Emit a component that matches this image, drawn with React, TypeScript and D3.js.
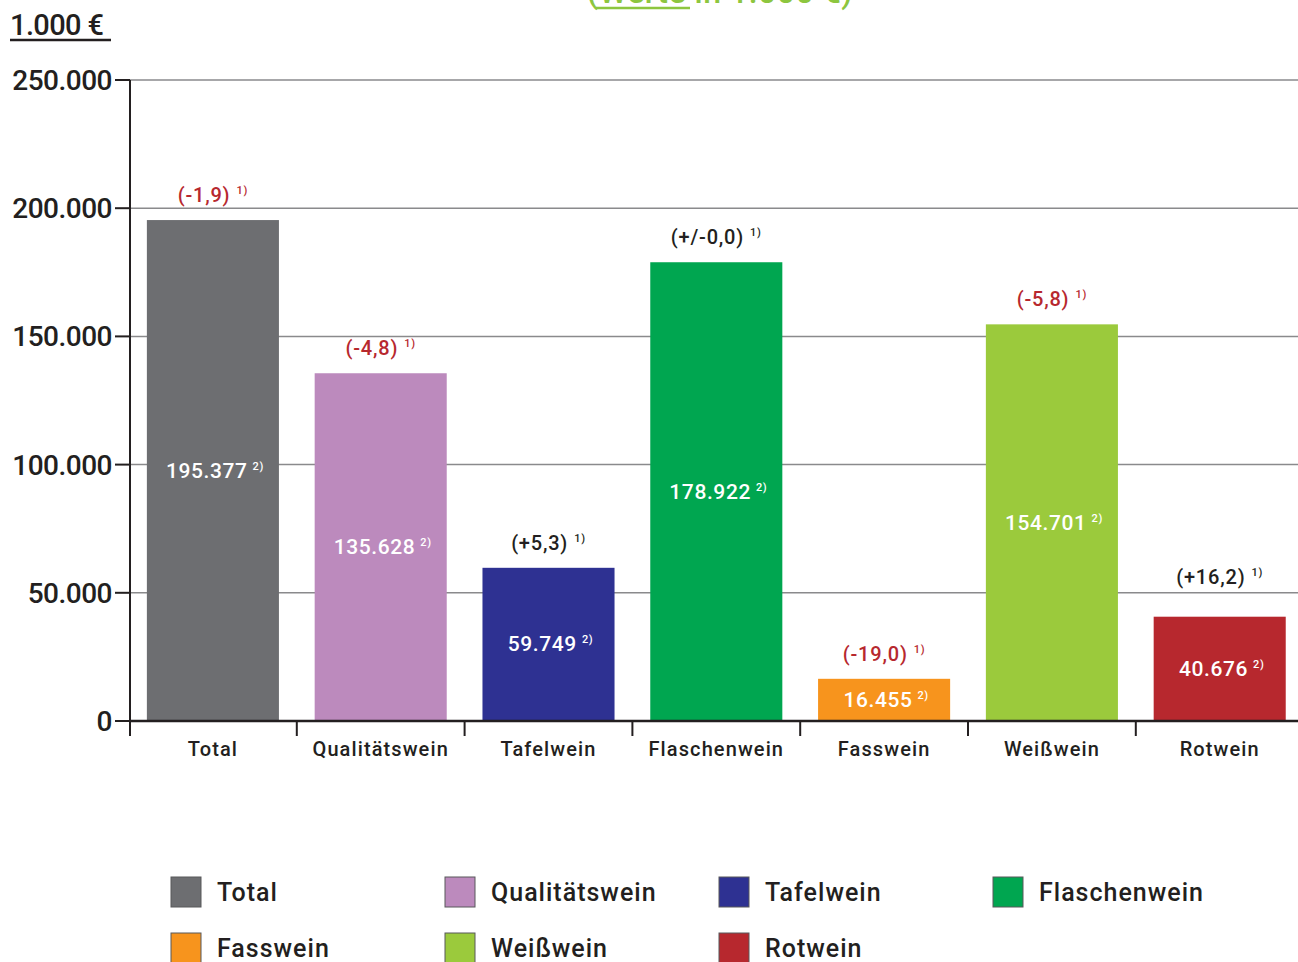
import * as d3 from 'd3';

const categories = ['Total', 'Qualitätswein', 'Tafelwein', 'Flaschenwein', 'Fasswein', 'Weißwein', 'Rotwein'];
const values = [195377, 135628, 59749, 178922, 16455, 154701, 40676];
const valueLabels = ['195.377', '135.628', '59.749', '178.922', '16.455', '154.701', '40.676'];
const changes = ['(-1,9)', '(-4,8)', '(+5,3)', '(+/-0,0)', '(-19,0)', '(-5,8)', '(+16,2)'];
const colors = ['#6d6e71', '#bc8abd', '#2e3192', '#00a650', '#f7941d', '#9bca3c', '#b7282e'];
const yTicks = [0, 50000, 100000, 150000, 200000, 250000];
const yTickLabels = ['0', '50.000', '100.000', '150.000', '200.000', '250.000'];

const W = 1298;
const H = 962;
const FONT = 'Roboto, "DejaVu Sans", sans-serif';

export default function App() {
  const x = d3.scaleBand<string>()
    .domain(categories)
    .range([129, 1303.6])
    .paddingInner(0.213)
    .paddingOuter(0.1065);
  const y = d3.scaleLinear().domain([0, 250000]).range([721, 80]);
  const step = x.step();
  const half = (step - x.bandwidth()) / 2;
  const grid = yTicks.filter(t => t > 0).map(t => y(t));

  // keep change labels clear of gridlines
  const changeY = (v: number) => {
    let ly = y(v) - 18;
    const hit = grid.find(g => g > ly - 16 && g < ly + 4);
    if (hit !== undefined) ly = hit - 9;
    return ly;
  };

  return (
    <svg width={W} height={H} style={{ position: 'absolute', left: 0, top: 0, background: '#fff' }}
      fontFamily={FONT}>
      {/* title, cut off at the top */}
      <text x={720} y={3} textAnchor="middle" fontSize={32} fontWeight={500} fill="#8dc63f" letterSpacing={0.5}>
        (Werte in 1.000 €)
      </text>
      <line x1={596} x2={690} y1={8} y2={8} stroke="#8dc63f" strokeWidth={2.5} />

      <text x={10} y={35} fontSize={29} fontWeight={500} fill="#231f20" letterSpacing={-0.6}>1.000 €</text>
      <line x1={10} x2={111} y1={40} y2={40} stroke="#231f20" strokeWidth={2.5} />

      {/* gridlines */}
      {grid.map(g => (
        <line key={g} x1={130} x2={W} y1={g} y2={g} stroke="#8a8a8c" strokeWidth={1.5} />
      ))}

      {/* bars */}
      {categories.map((c, i) => (
        <rect key={c} x={x(c)} y={y(values[i])} width={x.bandwidth()} height={y(0) - y(values[i])}
          fill={colors[i]} />
      ))}

      {/* value labels inside bars */}
      {categories.map((c, i) => {
        const cx = (x(c) as number) + x.bandwidth() / 2;
        const cy = (y(values[i]) + y(0)) / 2 + 7;
        return (
          <text key={c} x={cx + 2} y={cy} textAnchor="middle" fontSize={21} fontWeight={500} fill="#fff" letterSpacing={0.6}>
            {valueLabels[i]}
            <tspan fontSize={11} dx={5} dy={-8}>2)</tspan>
          </text>
        );
      })}

      {/* change labels above bars */}
      {categories.map((c, i) => {
        const cx = (x(c) as number) + x.bandwidth() / 2;
        const neg = changes[i].startsWith('(-');
        return (
          <text key={c} x={cx} y={changeY(values[i])} textAnchor="middle" fontSize={20} fontWeight={500}
            fill={neg ? '#b7282e' : '#231f20'} letterSpacing={0.8}>
            {changes[i]}
            <tspan fontSize={11} dx={6} dy={-8}>1)</tspan>
          </text>
        );
      })}

      {/* axes */}
      <line x1={130} x2={130} y1={80} y2={736} stroke="#231f20" strokeWidth={2} />
      <line x1={129} x2={W} y1={721} y2={721} stroke="#231f20" strokeWidth={2.5} />
      {yTicks.map((t, i) => (
        <g key={t}>
          <line x1={115} x2={130} y1={y(t)} y2={y(t)} stroke="#231f20" strokeWidth={2} />
          <text x={112} y={y(t) + 10} textAnchor="end" fontSize={28} fontWeight={500} fill="#231f20" letterSpacing={-0.5}>
            {yTickLabels[i]}
          </text>
        </g>
      ))}
      {categories.map((c, i) => (
        <g key={c}>
          {i > 0 && (
            <line x1={(x(c) as number) - half} x2={(x(c) as number) - half} y1={721} y2={736}
              stroke="#231f20" strokeWidth={2} />
          )}
          <text x={(x(c) as number) + x.bandwidth() / 2} y={756} textAnchor="middle" fontSize={20} fontWeight={500}
            fill="#231f20" letterSpacing={1.1}>
            {c}
          </text>
        </g>
      ))}

      {/* legend */}
      {categories.map((c, i) => {
        const lx = 171 + (i % 4) * 274;
        const ly = 877 + Math.floor(i / 4) * 56;
        return (
          <g key={c}>
            <rect x={lx} y={ly} width={30} height={30} fill={colors[i]} stroke="#58595b" strokeWidth={1} />
            <text x={lx + 46} y={ly + 24} fontSize={25} fontWeight={500} fill="#231f20" letterSpacing={1}>{c}</text>
          </g>
        );
      })}
    </svg>
  );
}
